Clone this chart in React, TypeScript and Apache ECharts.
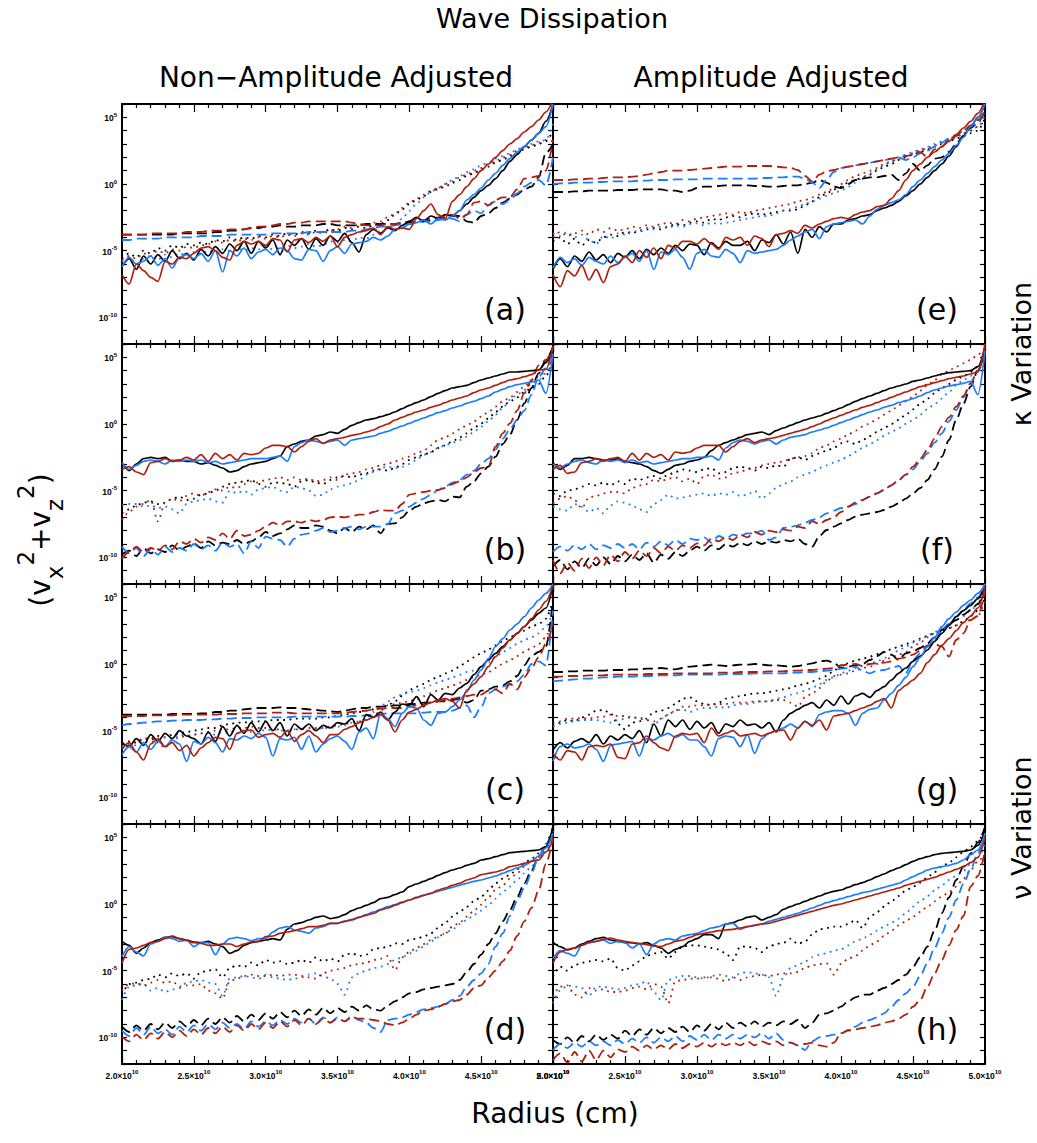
import React, { useEffect, useRef } from "react";
import * as echarts from "echarts";

// Radius grid, in units of 1e10 cm
const X = [2.00,2.05,2.10,2.15,2.20,2.25,2.30,2.35,2.40,2.45,2.50,2.55,2.60,2.65,2.70,2.75,2.80,2.85,2.90,2.95,3.00,3.05,3.10,3.15,3.20,3.25,3.30,3.35,3.40,3.45,3.50,3.55,3.60,3.65,3.70,3.75,3.80,3.85,3.90,3.95,4.00,4.05,4.10,4.15,4.20,4.25,4.30,4.35,4.40,4.45,4.50,4.55,4.60,4.65,4.70,4.75,4.80,4.85,4.90,4.95,5.00];

// All series values are log10(vx^2+vz^2). K=black, B=blue, R=red; S=solid, D=dashed, T=dotted
// ---- panel (a)
const aKS = [-6.2,-5.6,-6.4,-5.4,-6.0,-5.3,-5.8,-5.0,-5.6,-5.2,-5.7,-4.9,-5.4,-4.7,-5.2,-4.5,-5.0,-4.3,-5.2,-4.3,-4.8,-4.2,-5.3,-4.2,-4.6,-4.1,-4.9,-4.1,-4.6,-3.9,-4.3,-3.7,-4.4,-5.1,-3.8,-3.4,-3.7,-3.3,-3.5,-3.1,-2.8,-2.5,-2.8,-2.4,-2.6,-2.3,-2.4,-2.0,-1.5,-1.0,-0.5,-0.1,0.4,1.0,1.7,2.2,2.8,3.3,3.8,4.7,6.0];
const aKD = [-3.8,-3.8,-3.8,-3.8,-3.8,-3.8,-3.8,-3.8,-3.7,-3.7,-3.7,-3.7,-3.7,-3.6,-3.6,-3.5,-3.5,-3.4,-3.3,-3.3,-3.2,-3.2,-3.1,-3.2,-3.2,-3.1,-3.1,-3.1,-3.0,-3.0,-3.1,-3.1,-3.1,-3.1,-3.0,-3.0,-3.0,-3.0,-3.0,-2.9,-2.9,-2.8,-2.8,-2.7,-2.6,-2.5,-2.4,-2.4,-2.8,-2.9,-2.4,-2.2,-1.8,-1.4,-1.1,-0.8,-0.4,-0.2,0.5,2.3,3.0];
const aKT = [-5.6,-5.2,-5.5,-5.0,-5.2,-4.8,-5.0,-4.6,-4.8,-4.5,-4.6,-4.4,-4.5,-4.2,-4.3,-4.0,-4.2,-4.0,-4.1,-3.9,-4.0,-3.8,-3.9,-3.7,-3.8,-3.6,-3.7,-3.5,-3.6,-3.4,-3.5,-3.3,-3.4,-3.2,-3.3,-3.1,-3.0,-2.7,-2.3,-1.9,-1.5,-1.2,-0.9,-0.6,-0.4,-0.2,0.1,0.3,0.6,0.8,1.1,1.3,1.6,1.8,2.1,2.3,2.6,2.8,3.0,3.2,4.0];
const aBS = [-6.2,-5.5,-6.0,-5.8,-5.4,-6.1,-5.6,-6.3,-5.5,-5.3,-5.6,-5.2,-5.8,-5.0,-6.6,-5.0,-5.4,-4.8,-5.6,-5.1,-4.9,-5.3,-4.8,-5.0,-5.6,-5.7,-4.9,-5.0,-5.8,-5.0,-4.7,-5.2,-4.5,-4.4,-4.3,-4.0,-4.2,-3.9,-3.4,-3.3,-3.0,-2.9,-2.7,-3.0,-2.6,-2.7,-2.4,-2.0,-1.2,-0.8,-0.3,0.3,0.8,1.4,1.9,2.4,2.8,3.3,3.8,4.3,6.0];
const aBD = [-4.2,-4.2,-4.1,-4.1,-4.1,-4.1,-4.0,-4.0,-4.0,-4.0,-4.0,-3.9,-3.9,-3.9,-3.9,-3.8,-3.8,-3.8,-3.8,-3.8,-3.8,-3.7,-3.7,-3.7,-3.7,-3.7,-3.6,-3.6,-3.6,-3.6,-3.6,-3.6,-3.5,-3.5,-3.4,-3.3,-3.2,-3.2,-3.1,-3.0,-3.0,-2.9,-2.8,-2.8,-2.7,-2.6,-2.6,-2.8,-2.3,-2.0,-2.2,-1.6,-1.3,-1.5,-1.2,-0.7,-0.2,0.1,0.3,-0.1,2.0];
const aBT = [-5.8,-5.5,-6.0,-5.6,-5.4,-5.7,-5.3,-5.5,-5.2,-5.4,-5.1,-5.3,-5.0,-5.2,-4.9,-5.0,-4.8,-5.0,-4.8,-4.9,-4.7,-4.9,-4.8,-4.6,-4.8,-4.7,-4.5,-4.7,-4.6,-4.3,-4.4,-4.2,-4.3,-4.0,-4.1,-3.8,-3.6,-3.3,-3.0,-2.6,-2.0,-1.5,-1.0,-0.6,-0.3,0.0,0.3,0.6,0.9,1.1,1.4,1.6,1.9,2.1,2.3,2.6,2.8,3.0,3.2,3.3,4.5];
const aRS = [-6.8,-7.5,-6.0,-6.5,-7.0,-7.3,-5.8,-6.0,-5.5,-5.6,-5.2,-4.8,-4.7,-5.0,-5.5,-5.7,-4.6,-4.3,-4.5,-4.3,-4.6,-4.1,-4.2,-5.1,-4.2,-4.1,-4.4,-4.0,-4.3,-3.9,-4.7,-4.0,-3.8,-3.6,-3.5,-3.3,-3.8,-3.2,-3.4,-3.3,-3.4,-2.6,-2.0,-1.5,-2.3,-2.6,-1.3,-0.8,-0.2,0.4,1.0,1.5,2.0,2.5,3.0,3.4,3.9,4.3,4.8,5.4,6.3];
const aRD = [-3.8,-3.8,-3.8,-3.8,-3.7,-3.7,-3.7,-3.7,-3.7,-3.6,-3.6,-3.6,-3.5,-3.5,-3.5,-3.4,-3.4,-3.4,-3.3,-3.2,-3.2,-3.1,-3.0,-3.0,-2.9,-2.9,-2.8,-2.8,-2.8,-2.8,-2.8,-2.8,-2.9,-3.0,-3.1,-3.1,-3.1,-3.0,-3.0,-2.9,-2.8,-2.8,-2.7,-2.6,-2.5,-2.4,-2.3,-2.6,-2.3,-1.4,-1.3,-1.6,-1.2,-1.0,-1.0,-0.4,0.4,0.5,0.6,1.0,3.3];
const aRT = [-5.7,-5.4,-5.6,-5.2,-5.4,-5.0,-5.2,-4.9,-5.0,-4.7,-4.8,-4.6,-4.5,-4.3,-4.4,-4.2,-4.3,-4.1,-4.2,-4.0,-4.1,-3.9,-4.0,-3.8,-3.9,-3.7,-3.8,-3.6,-3.7,-3.5,-3.4,-3.2,-3.3,-3.0,-3.1,-2.9,-2.8,-2.5,-2.2,-1.8,-1.4,-1.1,-0.8,-0.5,-0.3,0.0,0.2,0.5,0.7,1.0,1.2,1.5,1.7,2.0,2.2,2.5,2.7,2.9,3.1,3.3,3.2];

// ---- panel (b)
const bKS = [-2.9,-3.5,-3.0,-2.6,-2.5,-2.6,-2.5,-2.8,-2.7,-2.8,-2.8,-3.0,-2.9,-3.1,-3.3,-3.6,-3.5,-3.2,-3.0,-2.9,-2.8,-2.6,-2.4,-1.7,-1.5,-1.3,-1.2,-0.9,-0.8,-0.6,-0.7,-0.4,-0.1,0.1,0.3,0.4,0.55,0.7,0.9,1.15,1.4,1.6,1.8,2.05,2.3,2.5,2.7,2.8,2.9,3.1,3.3,3.45,3.6,3.75,3.9,3.9,3.95,4.0,4.05,4.6,5.5];
const bKD = [-9.8,-9.5,-9.9,-9.3,-9.7,-9.4,-9.6,-9.1,-9.5,-9.2,-8.95,-9.3,-8.8,-9.1,-8.9,-9.0,-8.7,-9.0,-8.8,-8.5,-8.1,-8.4,-8.2,-7.9,-7.6,-7.8,-7.8,-7.6,-7.7,-8.0,-8.2,-7.8,-8.1,-7.7,-7.9,-7.6,-8.2,-7.5,-7.45,-7.0,-6.5,-6.2,-5.95,-5.8,-5.7,-5.8,-5.45,-5.5,-4.7,-4.3,-3.7,-3.2,-2.45,-1.5,-0.8,0.3,1.55,2.7,3.8,4.8,5.8];
const bKT = [-6.7,-6.4,-6.1,-5.9,-5.8,-6.0,-5.9,-5.6,-5.45,-5.7,-5.6,-5.3,-5.2,-5.0,-4.7,-4.5,-4.4,-4.3,-4.2,-4.5,-4.7,-4.4,-4.4,-4.5,-4.7,-4.3,-4.2,-4.4,-4.5,-4.2,-4.0,-3.9,-4.0,-3.8,-3.7,-3.5,-3.4,-3.5,-3.3,-3.0,-2.7,-2.5,-2.3,-2.1,-1.8,-1.6,-1.3,-1.0,-0.7,-0.3,0.05,0.4,0.9,1.3,1.7,2.0,2.4,2.7,3.0,3.6,4.8];
const bBS = [-2.9,-3.4,-3.1,-2.8,-2.7,-2.8,-3.0,-2.7,-2.8,-2.7,-2.8,-2.7,-2.9,-2.8,-3.0,-2.9,-2.8,-2.7,-2.6,-2.6,-2.6,-2.5,-2.4,-2.8,-1.7,-1.4,-1.2,-1.3,-1.45,-1.3,-1.2,-1.6,-1.2,-1.1,-1.0,-0.9,-0.7,-0.55,-0.35,-0.15,0.05,0.25,0.45,0.65,0.85,1.0,1.2,1.35,1.55,1.7,1.9,2.1,2.4,2.6,2.8,2.95,3.05,3.15,3.3,2.3,5.3];
const bBD = [-9.2,-9.7,-9.3,-9.9,-9.4,-9.8,-9.2,-9.6,-9.3,-9.5,-9.0,-9.4,-9.1,-9.5,-8.9,-9.2,-9.0,-9.7,-8.8,-9.3,-8.45,-8.6,-8.7,-9.2,-8.6,-8.3,-8.2,-8.0,-7.8,-8.1,-8.0,-7.8,-7.7,-7.9,-7.7,-7.7,-7.7,-7.5,-6.7,-6.5,-6.2,-5.9,-5.6,-5.3,-4.95,-4.7,-4.4,-4.2,-3.8,-3.5,-3.0,-2.6,-1.9,-1.1,-0.4,0.3,1.0,2.2,3.5,4.2,5.0];
const bBT = [-6.1,-6.0,-6.0,-6.2,-6.1,-6.3,-6.2,-6.4,-6.7,-6.0,-5.8,-5.7,-5.6,-5.8,-5.9,-5.0,-5.2,-5.0,-5.3,-4.9,-4.8,-4.7,-5.0,-5.1,-4.7,-4.8,-5.0,-5.4,-5.3,-4.9,-4.7,-4.6,-4.45,-4.2,-3.8,-3.6,-3.3,-3.2,-3.3,-3.2,-3.0,-2.7,-2.3,-2.1,-1.8,-1.6,-1.4,-1.2,-0.95,-0.6,-0.2,0.2,0.7,1.2,1.8,2.2,2.55,3.0,3.3,3.8,5.2];
const bRS = [-3.4,-3.2,-3.6,-3.8,-2.9,-2.8,-2.6,-2.8,-2.7,-2.5,-2.7,-2.3,-2.8,-2.2,-2.6,-2.3,-2.7,-2.2,-2.3,-2.2,-1.8,-1.6,-1.6,-1.7,-2.1,-1.7,-1.3,-1.1,-1.45,-1.2,-1.1,-1.0,-0.85,-0.75,-0.6,-0.45,-0.2,0.0,0.3,0.5,0.7,0.9,1.05,1.25,1.4,1.6,1.8,1.95,2.1,2.35,2.55,2.7,2.9,3.1,3.3,3.4,3.55,3.7,4.05,4.1,5.8];
const bRD = [-10.1,-9.6,-9.2,-9.6,-9.3,-9.5,-9.1,-9.4,-8.8,-9.0,-8.6,-8.9,-8.5,-8.7,-8.2,-8.6,-8.0,-8.4,-8.3,-8.0,-7.7,-7.4,-7.6,-7.3,-7.3,-7.4,-7.2,-7.3,-7.2,-7.0,-6.95,-7.0,-6.9,-6.8,-6.8,-6.6,-6.45,-6.5,-6.5,-6.0,-5.3,-5.2,-5.1,-5.0,-4.95,-4.8,-4.5,-4.3,-4.0,-3.6,-3.3,-3.2,-1.7,-0.7,0.05,1.0,2.3,3.3,4.4,4.8,5.8];
const bRT = [-7.2,-6.6,-6.2,-6.0,-5.7,-7.3,-5.9,-5.6,-5.8,-5.4,-5.2,-5.4,-5.1,-4.9,-5.0,-4.7,-4.8,-4.5,-4.3,-4.4,-4.2,-4.1,-4.0,-4.2,-4.0,-4.2,-4.1,-4.3,-4.2,-4.0,-4.2,-3.8,-3.7,-3.6,-3.4,-3.3,-3.1,-3.0,-2.8,-2.6,-2.45,-2.2,-2.0,-1.6,-1.2,-1.0,-0.7,-0.4,-0.1,0.2,0.55,0.9,1.3,1.7,2.0,2.4,2.8,3.2,3.55,4.0,5.3];

// ---- panel (c)
const cKS = [-5.9,-6.2,-5.6,-6.1,-5.3,-5.8,-5.2,-5.6,-5.0,-5.4,-5.6,-6.0,-5.1,-5.8,-4.7,-5.4,-4.6,-5.2,-4.4,-5.1,-4.3,-5.0,-4.4,-5.4,-4.5,-4.9,-4.5,-5.0,-4.6,-4.8,-4.4,-4.5,-4.1,-5.0,-3.8,-4.0,-3.6,-4.2,-3.6,-3.0,-3.1,-2.45,-3.2,-2.3,-2.7,-2.2,-2.3,-1.8,-1.45,-0.8,-0.2,0.3,0.8,1.3,1.8,2.3,2.8,3.3,3.8,4.2,5.9];
const cKD = [-3.8,-3.8,-3.8,-3.8,-3.8,-3.8,-3.8,-3.75,-3.75,-3.75,-3.75,-3.7,-3.7,-3.6,-3.6,-3.5,-3.5,-3.4,-3.35,-3.3,-3.3,-3.3,-3.25,-3.3,-3.3,-3.35,-3.4,-3.45,-3.5,-3.55,-3.6,-3.5,-3.4,-3.3,-3.3,-3.2,-3.2,-3.2,-3.1,-3.1,-3.0,-3.0,-2.9,-2.9,-2.8,-2.8,-2.7,-2.6,-2.9,-2.7,-2.0,-1.9,-1.7,-1.6,-1.3,-0.9,-0.1,0.6,0.9,1.3,4.8];
const cKT = [-6.0,-5.8,-5.9,-5.6,-5.7,-5.4,-5.5,-5.3,-5.2,-5.1,-5.0,-4.9,-4.8,-4.8,-4.6,-4.5,-4.4,-4.4,-4.3,-4.3,-4.3,-4.2,-4.2,-4.2,-4.1,-4.1,-4.1,-4.1,-4.0,-4.0,-3.9,-3.8,-3.7,-3.6,-3.5,-3.4,-3.3,-3.1,-2.8,-2.4,-1.95,-1.7,-1.5,-1.2,-0.95,-0.7,-0.5,-0.2,0.2,0.5,0.8,1.1,1.4,1.7,2.0,2.3,2.5,2.8,3.0,3.4,4.8];
const cBS = [-6.8,-6.2,-6.6,-5.9,-6.4,-5.8,-6.2,-5.7,-6.0,-7.3,-5.8,-6.0,-5.5,-5.9,-6.6,-5.6,-5.7,-5.4,-5.6,-5.2,-5.5,-6.9,-5.6,-5.7,-5.5,-6.4,-5.4,-6.6,-6.0,-5.6,-5.4,-5.8,-6.4,-5.1,-4.8,-5.6,-3.7,-4.1,-4.7,-3.7,-3.2,-3.3,-4.2,-4.6,-3.7,-3.6,-3.2,-2.7,-2.1,-1.2,-0.45,0.4,1.3,1.9,2.55,3.0,3.55,4.2,4.8,5.3,6.0];
const cBD = [-4.6,-4.5,-4.45,-4.4,-4.35,-4.3,-4.3,-4.25,-4.25,-4.2,-4.2,-4.2,-4.15,-4.15,-4.1,-4.1,-4.05,-4.05,-4.05,-4.0,-4.0,-4.0,-4.0,-4.0,-3.95,-3.95,-3.95,-3.95,-3.95,-3.95,-3.95,-3.95,-3.9,-3.9,-3.85,-3.8,-3.75,-3.7,-3.7,-3.7,-3.7,-3.7,-3.65,-3.6,-3.6,-3.6,-3.5,-3.3,-3.1,-4.0,-3.2,-2.2,-1.9,-1.7,-1.5,-1.3,-0.8,0.0,0.2,-0.1,4.0];
const cBT = [-6.2,-6.0,-6.1,-5.8,-5.9,-5.6,-5.5,-5.6,-5.3,-5.4,-5.3,-5.2,-5.2,-5.3,-5.1,-5.0,-5.2,-5.0,-5.1,-4.9,-5.0,-4.9,-5.0,-5.0,-4.9,-4.9,-5.0,-4.9,-4.8,-4.8,-4.7,-4.6,-4.4,-4.3,-4.1,-3.6,-3.2,-2.8,-2.5,-2.3,-2.1,-2.0,-1.8,-1.6,-1.4,-1.2,-1.0,-0.8,-0.6,-0.5,-0.3,0.1,0.5,0.9,1.2,1.5,1.8,2.0,2.3,2.8,4.0];
const cRS = [-6.4,-5.9,-6.6,-7.2,-6.0,-5.6,-6.2,-5.9,-6.5,-6.1,-6.9,-6.3,-5.9,-5.5,-5.6,-6.4,-5.2,-5.0,-4.95,-5.5,-5.3,-5.2,-5.5,-5.0,-5.8,-5.3,-5.0,-5.4,-5.9,-5.3,-5.3,-4.9,-4.7,-4.4,-4.2,-4.0,-3.8,-4.2,-5.1,-4.2,-3.6,-3.4,-3.1,-2.9,-2.7,-2.6,-2.8,-3.3,-1.95,-1.5,-0.95,-0.2,0.55,1.2,1.8,2.3,2.8,3.4,4.05,4.7,5.9];
const cRD = [-3.9,-3.9,-3.9,-3.9,-3.85,-3.85,-3.85,-3.85,-3.8,-3.8,-3.8,-3.8,-3.8,-3.8,-3.75,-3.75,-3.75,-3.7,-3.7,-3.7,-3.7,-3.65,-3.65,-3.65,-3.7,-3.7,-3.7,-3.7,-3.7,-3.7,-3.7,-3.65,-3.6,-3.55,-3.5,-3.4,-3.35,-3.3,-3.3,-3.3,-3.2,-3.1,-3.0,-2.9,-2.8,-2.7,-2.6,-2.5,-2.4,-2.3,-2.3,-2.0,-1.9,-2.2,-1.5,-1.9,-1.0,-0.3,0.5,1.5,3.0];
const cRT = [-5.9,-6.1,-5.8,-5.6,-5.5,-5.9,-6.3,-5.7,-5.5,-5.4,-5.3,-5.2,-5.1,-5.0,-4.9,-4.9,-4.8,-4.8,-4.7,-4.8,-4.8,-4.9,-4.9,-5.0,-4.9,-4.9,-4.8,-4.8,-4.8,-4.7,-4.6,-4.5,-4.4,-4.3,-4.2,-3.9,-3.5,-3.1,-3.0,-2.9,-2.8,-2.6,-2.4,-2.2,-2.0,-1.8,-1.6,-1.4,-1.2,-1.0,-0.8,-0.6,-0.3,0.0,0.3,0.6,0.9,1.2,1.5,2.0,3.5];

// ---- panel (d)
const dKS = [-2.8,-3.1,-3.7,-3.3,-2.9,-2.7,-2.5,-2.45,-2.6,-2.7,-2.85,-2.9,-2.8,-3.0,-3.2,-3.7,-3.5,-3.1,-2.9,-2.8,-2.7,-2.6,-2.7,-1.9,-1.5,-1.4,-1.2,-1.0,-0.9,-1.1,-1.0,-0.8,-0.5,-0.3,-0.1,0.1,0.4,0.5,0.7,0.9,1.3,1.5,1.7,1.9,2.15,2.35,2.55,2.7,2.9,3.05,3.3,3.4,3.55,3.7,3.85,3.9,3.95,4.0,4.05,4.3,5.8];
const dKD = [-9.2,-9.6,-9.1,-9.5,-9.0,-9.4,-8.9,-9.3,-8.8,-9.2,-8.7,-9.1,-8.6,-9.0,-8.5,-8.9,-8.4,-8.8,-8.3,-8.7,-8.2,-8.6,-8.1,-8.5,-8.0,-8.4,-7.9,-8.3,-7.8,-8.2,-7.8,-8.1,-7.7,-8.0,-7.6,-7.9,-8.0,-7.6,-7.3,-7.0,-6.7,-6.6,-6.4,-6.3,-6.2,-6.1,-6.0,-5.7,-5.1,-4.5,-3.8,-3.0,-2.2,-1.3,-0.45,0.5,1.55,2.5,3.55,4.3,5.8];
const dKT = [-6.8,-6.0,-5.9,-5.7,-5.6,-5.3,-5.5,-5.2,-5.4,-5.2,-5.6,-5.1,-5.0,-4.9,-5.5,-4.8,-4.6,-4.7,-4.4,-4.6,-4.2,-4.4,-4.3,-4.5,-4.4,-4.2,-4.4,-4.0,-4.3,-4.1,-4.3,-3.8,-3.7,-3.9,-3.8,-3.4,-3.3,-3.2,-2.95,-3.0,-2.7,-2.6,-2.45,-2.2,-1.8,-1.4,-0.95,-0.6,-0.2,0.2,0.55,1.0,1.55,1.9,2.2,2.6,3.05,3.4,3.8,4.2,5.3];
const dBS = [-3.95,-3.2,-3.6,-3.9,-3.0,-2.8,-2.5,-2.6,-2.8,-2.7,-3.2,-2.9,-2.9,-3.8,-3.0,-2.6,-2.5,-2.6,-2.75,-2.6,-2.6,-2.1,-1.8,-1.7,-1.95,-2.05,-2.2,-1.8,-1.7,-1.45,-1.45,-1.3,-1.15,-1.0,-0.8,-0.6,-0.4,-0.2,-0.05,0.15,0.3,0.45,0.65,0.8,0.95,1.1,1.25,1.4,1.55,1.7,1.8,1.95,2.1,2.3,2.5,2.7,2.9,3.2,3.6,4.2,5.3];
const dBD = [-9.5,-9.9,-9.3,-9.8,-9.2,-9.7,-9.4,-9.8,-9.2,-9.6,-9.1,-9.5,-9.0,-9.4,-8.9,-9.3,-9.0,-9.4,-8.8,-9.2,-8.8,-9.1,-8.7,-9.0,-8.6,-8.9,-8.6,-9.0,-8.5,-8.9,-8.5,-8.8,-8.4,-8.7,-8.9,-9.3,-9.6,-8.7,-8.6,-8.5,-8.3,-8.1,-7.9,-7.8,-7.7,-7.5,-7.2,-6.9,-6.2,-5.7,-5.2,-4.5,-3.2,-2.2,-0.9,0.2,1.2,2.3,3.55,4.5,5.5];
const dBT = [-7.2,-6.2,-6.1,-6.0,-6.5,-6.3,-6.6,-6.4,-6.3,-5.9,-5.8,-5.7,-5.9,-6.0,-6.9,-5.6,-5.5,-5.4,-5.5,-5.6,-5.3,-5.5,-5.6,-5.7,-5.6,-5.5,-5.3,-5.2,-5.4,-5.6,-6.0,-6.8,-5.5,-5.2,-5.0,-4.8,-4.7,-4.5,-4.2,-4.0,-3.7,-3.5,-3.2,-2.8,-2.5,-2.2,-1.9,-1.5,-1.2,-0.8,-0.5,-0.1,0.4,0.9,1.3,1.8,2.3,2.8,3.4,3.9,5.0];
const dRS = [-4.45,-3.4,-3.3,-3.1,-2.9,-2.8,-2.6,-2.4,-2.6,-2.75,-2.9,-2.95,-3.1,-3.1,-3.0,-3.0,-3.2,-3.0,-2.85,-2.8,-2.45,-2.4,-2.2,-2.1,-2.0,-1.85,-1.7,-1.7,-1.6,-1.45,-1.45,-1.3,-1.2,-1.0,-0.85,-0.7,-0.45,-0.3,-0.1,0.1,0.3,0.5,0.65,0.8,1.05,1.2,1.4,1.55,1.8,1.95,2.2,2.3,2.4,2.55,2.8,2.9,3.05,3.2,3.3,3.9,4.8];
const dRD = [-9.95,-10.3,-9.8,-10.2,-9.7,-10.1,-9.6,-10.0,-9.5,-9.9,-9.4,-9.8,-9.3,-9.7,-9.2,-9.6,-9.1,-9.5,-9.0,-9.4,-8.9,-9.3,-8.8,-9.2,-8.7,-9.1,-8.6,-9.0,-8.6,-8.9,-8.6,-8.8,-8.5,-8.6,-8.6,-8.7,-8.8,-9.0,-9.1,-8.9,-8.6,-8.3,-8.0,-7.9,-7.7,-7.5,-7.3,-7.2,-6.8,-6.3,-6.1,-5.5,-5.0,-4.3,-3.5,-2.4,-1.3,-0.3,1.0,3.0,5.0];
const dRT = [-6.5,-6.0,-5.95,-6.1,-5.9,-5.7,-5.9,-5.8,-6.2,-6.1,-6.1,-6.0,-6.5,-6.7,-7.1,-5.8,-5.6,-5.4,-5.3,-5.4,-5.4,-5.3,-5.4,-5.3,-5.3,-5.4,-5.5,-5.6,-5.2,-5.0,-4.9,-4.8,-4.6,-4.5,-4.4,-4.2,-4.1,-3.9,-4.95,-4.0,-3.6,-3.3,-3.0,-2.7,-2.45,-2.2,-1.7,-1.4,-0.95,-0.5,-0.05,0.5,1.05,1.4,1.9,2.3,2.8,3.2,3.55,4.0,5.0];

// ---- panel (e)
const eKS = [-6.4,-5.6,-6.2,-5.4,-5.8,-5.1,-5.7,-5.3,-5.9,-5.2,-5.5,-5.0,-5.6,-4.9,-5.3,-4.8,-5.2,-4.6,-5.0,-4.5,-4.6,-5.3,-4.4,-4.8,-4.3,-4.6,-4.6,-4.3,-5.0,-4.2,-4.4,-3.8,-4.5,-3.6,-5.2,-3.4,-4.0,-3.2,-3.6,-3.0,-3.0,-2.7,-2.6,-2.4,-2.3,-2.0,-1.8,-1.6,-1.3,-0.9,-0.5,0.0,0.5,1.0,1.5,2.1,2.8,3.6,4.3,5.0,6.0];
const eKD = [-0.6,-0.6,-0.6,-0.55,-0.55,-0.5,-0.5,-0.5,-0.5,-0.45,-0.45,-0.45,-0.4,-0.4,-0.4,-0.4,-0.5,-0.5,-0.6,-0.5,-0.3,-0.2,-0.2,-0.15,-0.1,-0.1,-0.1,-0.1,-0.15,-0.15,-0.2,-0.2,-0.15,-0.1,-0.1,0.0,0.1,0.3,0.1,-0.2,-0.3,0.0,0.3,0.4,0.5,0.5,0.6,0.7,0.3,0.8,1.5,1.0,1.4,1.9,2.0,2.4,3.0,3.6,4.2,4.6,5.5];
const eKT = [-4.3,-4.0,-4.5,-4.1,-4.6,-4.2,-4.4,-4.0,-3.8,-3.9,-3.6,-3.7,-3.5,-3.4,-3.3,-3.4,-3.2,-3.0,-3.1,-2.9,-2.8,-2.9,-2.6,-2.7,-2.5,-2.4,-2.5,-2.3,-2.2,-2.3,-2.2,-2.1,-2.0,-2.0,-1.9,-1.6,-1.3,-1.0,-0.7,-0.4,-0.2,0.1,0.3,0.5,0.7,1.0,1.3,1.5,1.8,2.0,2.2,2.4,2.6,2.8,3.0,3.2,3.4,3.6,3.8,4.0,5.0];
const eBS = [-6.3,-5.5,-5.9,-5.6,-6.1,-5.5,-5.8,-6.0,-5.4,-5.9,-5.5,-5.2,-5.8,-5.0,-6.4,-5.1,-5.3,-4.9,-5.5,-6.4,-5.2,-4.9,-5.4,-5.5,-4.9,-5.2,-5.9,-5.0,-5.2,-5.1,-5.0,-4.9,-4.6,-4.2,-3.9,-3.6,-3.4,-4.1,-3.2,-3.0,-2.9,-2.8,-2.7,-3.0,-2.4,-1.9,-1.6,-1.4,-1.2,-0.8,-0.2,0.3,0.8,1.3,1.8,2.3,2.9,3.5,4.3,5.0,6.0];
const eBD = [0.0,0.05,0.05,0.1,0.1,0.1,0.15,0.15,0.2,0.2,0.2,0.2,0.25,0.25,0.3,0.3,0.3,0.35,0.35,0.35,0.35,0.4,0.4,0.4,0.4,0.4,0.4,0.4,0.4,0.45,0.45,0.5,0.5,0.55,0.55,0.4,0.1,-0.3,0.3,0.9,1.2,1.3,1.4,1.5,1.6,1.7,1.8,1.9,2.0,1.8,2.0,2.3,2.5,2.8,3.1,3.4,3.7,4.0,4.3,4.7,5.5];
const eBT = [-3.7,-3.9,-3.6,-4.0,-3.8,-4.2,-4.5,-3.9,-4.1,-3.7,-3.8,-3.5,-3.6,-3.3,-3.4,-3.2,-3.3,-3.1,-3.2,-3.0,-2.95,-3.1,-2.9,-3.0,-2.9,-2.8,-2.7,-2.6,-2.5,-2.4,-2.4,-2.2,-2.0,-1.9,-1.7,-1.5,-1.3,-1.1,-0.9,-0.7,-0.5,-0.2,0.1,0.5,0.8,1.1,1.4,1.7,2.0,2.2,2.4,2.6,2.8,3.0,3.2,3.4,3.6,3.8,4.0,4.3,5.2];
const eRS = [-6.8,-7.7,-6.5,-6.9,-6.1,-7.2,-6.4,-7.4,-6.2,-6.0,-5.4,-5.9,-5.0,-5.5,-4.8,-5.6,-4.6,-4.8,-4.3,-4.3,-4.5,-4.1,-4.5,-4.9,-4.0,-4.2,-4.0,-4.6,-3.9,-4.1,-4.7,-3.8,-3.7,-3.5,-3.7,-3.1,-3.3,-3.0,-2.8,-2.6,-2.5,-2.6,-2.3,-2.1,-2.0,-1.7,-1.6,-1.1,-0.5,0.3,1.0,1.5,2.0,2.4,2.8,3.2,3.7,4.2,4.7,5.3,6.3];
const eRD = [0.3,0.3,0.3,0.35,0.35,0.4,0.4,0.45,0.5,0.5,0.5,0.55,0.6,0.7,0.8,0.9,1.0,1.0,1.0,1.05,1.1,1.15,1.2,1.25,1.3,1.3,1.3,1.35,1.35,1.35,1.35,1.3,1.25,1.2,1.05,0.6,0.2,0.7,0.95,1.05,1.2,1.3,1.4,1.5,1.6,1.7,1.8,1.9,2.0,2.1,2.2,2.4,2.0,2.6,2.8,3.3,3.6,4.0,4.4,4.8,5.5];
const eRT = [-4.0,-3.6,-3.9,-3.7,-3.5,-3.8,-3.4,-3.6,-3.3,-3.5,-3.4,-3.2,-3.3,-3.1,-3.2,-3.0,-2.9,-3.0,-2.7,-2.8,-2.6,-2.5,-2.4,-2.3,-2.2,-2.3,-2.1,-2.2,-2.0,-1.9,-1.8,-1.7,-1.6,-1.5,-1.3,-1.2,-1.0,-0.8,-0.6,-0.3,0.0,0.3,0.6,0.8,1.0,1.2,1.5,1.7,1.9,2.1,2.3,2.5,2.7,2.9,3.1,3.3,3.5,3.8,4.0,4.3,4.8];

// ---- panel (f)
const fKS = [-2.9,-3.4,-3.1,-2.6,-2.6,-2.5,-2.6,-2.7,-2.7,-2.6,-2.8,-2.9,-3.0,-3.2,-3.5,-3.7,-3.4,-3.1,-3.0,-2.8,-2.7,-2.5,-2.0,-1.6,-1.4,-1.2,-1.0,-0.8,-0.7,-0.6,-0.8,-0.5,-0.3,-0.1,0.1,0.3,0.45,0.6,0.8,1.0,1.2,1.45,1.7,1.9,2.1,2.3,2.5,2.7,2.85,3.0,3.2,3.3,3.45,3.6,3.75,3.85,3.9,3.95,4.0,4.3,5.8];
const fKD = [-10.7,-10.2,-10.9,-10.3,-10.8,-10.1,-10.6,-10.0,-10.5,-9.9,-10.3,-9.8,-10.2,-9.7,-10.4,-9.8,-10.1,-9.6,-9.9,-9.5,-9.2,-9.5,-9.1,-9.4,-9.0,-9.2,-8.9,-9.1,-8.8,-9.0,-8.8,-8.9,-8.7,-8.8,-8.6,-9.0,-9.2,-8.4,-7.95,-7.7,-7.45,-7.2,-6.95,-6.8,-6.7,-6.6,-6.45,-6.2,-5.95,-5.6,-5.2,-4.8,-4.2,-3.4,-2.45,-1.2,0.3,1.5,2.8,4.0,5.5];
const fKT = [-5.2,-5.4,-5.0,-4.9,-4.7,-4.5,-4.6,-4.4,-4.6,-4.3,-4.5,-4.1,-4.2,-4.0,-3.9,-4.1,-3.8,-3.6,-3.4,-3.5,-3.6,-3.4,-3.3,-3.7,-3.6,-3.3,-3.2,-3.3,-3.5,-3.2,-3.3,-3.1,-3.2,-2.6,-2.5,-2.7,-2.4,-2.2,-2.0,-1.8,-1.45,-1.3,-1.5,-1.2,-0.9,-0.6,-0.3,0.0,0.3,0.7,1.1,1.5,1.9,2.3,2.7,3.0,3.3,3.6,3.9,4.3,5.0];
const fBS = [-3.0,-3.3,-3.0,-2.8,-2.7,-2.9,-3.0,-2.7,-2.8,-2.7,-2.9,-2.7,-2.9,-2.8,-3.0,-2.9,-2.8,-2.7,-2.6,-2.6,-2.5,-2.5,-2.4,-2.7,-1.8,-1.4,-1.2,-1.3,-1.5,-1.3,-1.2,-1.5,-1.2,-1.0,-0.9,-0.8,-0.6,-0.45,-0.3,-0.1,0.1,0.3,0.5,0.7,0.9,1.05,1.25,1.4,1.6,1.75,1.9,2.1,2.35,2.55,2.7,2.85,2.95,3.05,3.2,2.2,5.5];
const fBD = [-9.6,-9.2,-9.5,-9.1,-9.4,-9.0,-9.4,-9.1,-9.3,-9.0,-9.3,-9.0,-9.4,-8.9,-9.2,-8.8,-9.1,-8.7,-9.0,-8.6,-8.7,-8.5,-8.9,-8.4,-8.6,-8.3,-8.4,-8.2,-8.2,-8.0,-8.7,-8.5,-7.8,-7.7,-7.6,-7.4,-7.2,-7.0,-6.7,-6.5,-6.3,-6.2,-6.0,-5.7,-5.45,-5.2,-4.95,-4.6,-4.2,-3.8,-3.4,-2.8,-2.2,-1.4,-0.7,0.2,1.05,2.0,3.05,4.0,5.5];
const fBT = [-6.2,-6.4,-6.5,-6.0,-6.2,-6.6,-6.3,-6.7,-6.1,-5.8,-5.9,-6.1,-6.4,-6.6,-6.0,-5.7,-5.3,-5.6,-5.5,-5.4,-5.3,-5.2,-5.4,-5.2,-5.3,-5.1,-5.4,-5.3,-5.0,-5.6,-5.2,-4.8,-4.5,-4.3,-4.0,-3.8,-3.6,-3.3,-3.1,-2.9,-2.7,-2.4,-2.1,-1.8,-1.5,-1.2,-0.9,-0.6,-0.3,0.0,0.3,0.7,1.1,1.5,1.9,2.4,2.9,3.3,3.6,4.0,5.0];
const fRS = [-3.4,-3.1,-3.7,-3.6,-2.9,-2.8,-2.6,-2.8,-2.6,-2.5,-2.8,-2.2,-2.7,-2.2,-2.5,-2.3,-2.7,-2.1,-2.2,-2.1,-1.8,-1.6,-1.6,-1.6,-2.1,-1.7,-1.3,-1.1,-1.4,-1.2,-1.1,-1.0,-0.85,-0.7,-0.55,-0.4,-0.2,0.0,0.25,0.45,0.65,0.85,1.05,1.25,1.4,1.6,1.8,2.0,2.2,2.4,2.6,2.8,2.95,3.1,3.25,3.4,3.5,3.6,3.75,3.9,6.0];
const fRD = [-10.2,-11.2,-10.4,-11.0,-10.1,-10.8,-10.0,-10.6,-9.8,-10.3,-9.6,-10.1,-9.5,-9.9,-9.3,-9.7,-9.2,-9.5,-9.1,-9.3,-8.95,-9.1,-8.6,-8.8,-8.5,-8.7,-8.3,-8.5,-8.1,-8.3,-8.0,-8.1,-7.9,-8.0,-7.7,-7.8,-7.3,-7.5,-7.2,-7.0,-6.6,-6.2,-5.9,-5.7,-5.45,-5.2,-4.9,-4.6,-4.2,-3.8,-3.2,-2.6,-1.95,-1.1,-0.2,0.5,1.3,2.1,3.05,4.0,5.5];
const fRT = [-5.95,-5.6,-5.4,-5.7,-6.3,-5.5,-5.4,-5.2,-5.1,-5.1,-5.2,-4.8,-4.6,-4.5,-4.2,-4.3,-4.1,-4.0,-4.3,-4.1,-4.5,-3.9,-3.8,-4.1,-4.0,-3.7,-3.6,-3.4,-3.3,-3.1,-3.0,-2.9,-2.8,-2.6,-2.5,-2.4,-2.2,-1.8,-1.6,-1.3,-1.1,-0.8,-0.5,-0.2,0.05,0.4,0.7,1.0,1.4,1.7,2.05,2.5,2.9,3.3,3.7,4.0,4.3,4.55,4.8,5.2,5.7];

// ---- panel (g)
const gKS = [-6.45,-5.9,-6.3,-5.8,-5.6,-5.9,-5.3,-6.0,-5.4,-5.7,-5.3,-5.6,-5.0,-5.9,-4.5,-5.4,-4.2,-4.7,-4.2,-4.9,-4.3,-4.8,-4.4,-5.2,-4.5,-4.7,-4.2,-4.6,-4.5,-4.8,-4.4,-5.1,-4.2,-3.7,-3.4,-3.1,-2.9,-3.3,-2.7,-3.1,-2.4,-3.0,-2.4,-2.2,-2.5,-2.0,-1.7,-1.2,-0.7,-0.3,0.2,0.6,1.05,1.7,2.3,2.9,3.55,4.0,4.4,4.9,5.8];
const gKD = [-0.6,-0.6,-0.55,-0.55,-0.5,-0.5,-0.5,-0.5,-0.45,-0.45,-0.45,-0.4,-0.4,-0.35,-0.35,-0.3,-0.35,-0.4,-0.3,-0.2,-0.15,-0.1,-0.05,-0.1,-0.15,-0.1,-0.05,-0.05,0.0,-0.05,-0.1,-0.1,-0.15,-0.2,-0.15,-0.05,0.05,0.2,0.25,0.1,-0.3,-0.2,-0.1,0.0,0.3,0.6,0.9,0.7,0.3,0.8,0.95,1.2,1.55,2.0,2.55,3.0,3.3,3.7,4.05,4.5,5.8];
const gKT = [-4.7,-4.4,-4.2,-4.3,-4.0,-3.8,-3.5,-3.45,-3.7,-4.5,-4.9,-4.4,-4.3,-4.1,-3.6,-3.5,-3.3,-3.0,-2.6,-2.5,-2.8,-3.0,-3.1,-2.9,-2.6,-2.5,-2.4,-2.3,-2.2,-2.2,-2.1,-2.0,-1.9,-1.8,-1.6,-1.5,-1.3,-1.1,-0.9,-0.5,-0.1,0.05,0.25,0.4,0.55,0.75,0.9,1.1,1.3,1.5,1.7,1.9,2.1,2.3,2.5,2.7,2.9,3.2,3.6,4.0,5.0];
const gBS = [-7.3,-6.2,-6.0,-6.3,-6.2,-6.0,-6.4,-7.3,-6.1,-6.0,-5.9,-5.8,-6.9,-5.6,-5.7,-5.4,-5.2,-5.5,-5.3,-5.7,-5.7,-6.2,-6.9,-5.6,-5.4,-5.5,-6.2,-5.3,-6.7,-5.6,-5.2,-5.0,-4.8,-4.5,-4.8,-4.3,-4.7,-3.8,-3.6,-3.5,-3.5,-3.7,-4.6,-3.7,-3.4,-3.3,-2.7,-2.2,-1.6,-1.0,-0.2,0.5,1.3,2.0,2.8,3.4,3.9,4.4,4.8,5.3,6.0];
const gBD = [-1.3,-1.25,-1.2,-1.15,-1.1,-1.1,-1.05,-1.0,-1.0,-0.95,-0.95,-0.95,-0.9,-0.9,-0.9,-0.85,-0.85,-0.85,-0.8,-0.8,-0.8,-0.8,-0.8,-0.8,-0.75,-0.75,-0.75,-0.75,-0.7,-0.7,-0.7,-0.7,-0.7,-0.65,-0.65,-0.6,-0.6,-0.55,-0.5,-0.45,-0.35,-0.3,-0.2,-0.5,-0.7,-0.5,-0.45,-0.3,-0.15,-0.7,0.3,0.8,1.3,1.8,2.55,3.0,3.55,4.0,4.55,5.0,6.0];
const gBT = [-4.7,-4.5,-4.4,-4.3,-4.2,-4.2,-4.2,-4.3,-4.4,-4.2,-4.1,-4.0,-4.0,-4.2,-4.6,-4.1,-3.8,-3.5,-3.4,-3.6,-3.4,-3.3,-3.3,-3.2,-3.3,-3.1,-3.0,-3.0,-2.9,-2.8,-2.8,-2.6,-2.5,-2.3,-2.2,-2.0,-1.8,-1.5,-1.2,-1.0,-0.7,-0.5,-0.3,-0.15,0.0,0.2,0.45,0.7,1.0,1.3,1.6,1.8,2.1,2.4,2.7,3.0,3.3,3.6,4.0,4.5,5.3];
const gRS = [-6.7,-7.2,-6.5,-6.6,-7.2,-6.2,-6.1,-6.2,-6.0,-7.0,-7.1,-6.0,-5.9,-5.4,-5.9,-6.3,-6.5,-5.4,-5.2,-5.3,-5.2,-5.9,-4.8,-5.4,-5.2,-5.0,-5.4,-5.3,-5.2,-5.4,-5.2,-5.0,-4.95,-5.7,-4.8,-4.3,-4.6,-4.2,-4.95,-3.9,-3.8,-3.7,-3.5,-3.3,-3.1,-2.8,-2.6,-3.3,-2.0,-1.6,-1.2,-0.7,0.1,0.7,1.4,1.9,2.5,3.1,3.6,4.2,5.8];
const gRD = [-0.95,-0.95,-0.9,-0.9,-0.9,-0.85,-0.85,-0.85,-0.8,-0.8,-0.8,-0.8,-0.8,-0.75,-0.75,-0.75,-0.75,-0.7,-0.7,-0.7,-0.7,-0.7,-0.7,-0.65,-0.65,-0.65,-0.6,-0.6,-0.6,-0.6,-0.55,-0.55,-0.55,-0.5,-0.5,-0.45,-0.45,-0.4,-0.35,-0.3,-0.1,-0.05,0.0,-0.15,0.0,0.05,0.1,0.2,0.4,0.5,0.7,1.0,1.4,1.5,1.3,0.55,1.8,2.3,3.3,3.6,5.5];
const gRT = [-4.45,-4.3,-4.1,-4.1,-4.05,-4.1,-4.0,-3.95,-3.8,-3.9,-3.9,-4.0,-4.1,-4.2,-4.3,-4.1,-3.8,-3.5,-3.2,-3.2,-3.1,-3.1,-3.0,-3.0,-3.0,-2.9,-2.9,-2.9,-2.8,-2.8,-2.8,-2.7,-2.7,-2.9,-3.2,-2.5,-2.2,-1.8,-1.3,-0.9,-0.8,-0.7,-0.5,-0.3,-0.2,0.0,0.25,0.5,0.7,0.9,1.3,1.6,2.0,2.3,2.5,2.7,2.9,3.1,3.3,3.6,4.8];

// ---- panel (h)
const hKS = [-2.85,-3.2,-3.45,-3.3,-3.0,-2.8,-2.6,-2.5,-2.7,-2.8,-2.9,-2.9,-3.0,-2.9,-3.1,-3.3,-3.7,-3.4,-3.2,-2.8,-2.6,-2.3,-2.3,-2.6,-1.5,-1.4,-1.2,-1.0,-0.9,-1.2,-1.0,-0.8,-0.4,-0.2,0.0,0.2,0.4,0.6,0.8,0.95,1.05,1.25,1.45,1.6,1.8,2.05,2.25,2.5,2.7,2.95,3.2,3.4,3.55,3.7,3.8,3.85,3.9,3.95,4.05,4.4,5.5];
const hKD = [-10.2,-10.5,-10.0,-10.4,-9.9,-10.3,-9.8,-10.2,-9.8,-10.1,-9.5,-9.9,-9.4,-9.8,-9.3,-9.7,-9.3,-9.6,-9.2,-9.6,-9.1,-9.5,-9.0,-9.4,-8.9,-9.3,-8.9,-9.2,-8.8,-9.2,-8.9,-9.1,-8.8,-9.0,-8.7,-9.3,-8.9,-8.3,-8.2,-8.0,-7.7,-7.3,-7.0,-6.8,-6.8,-6.5,-6.3,-6.0,-5.7,-5.3,-4.7,-4.0,-3.2,-2.0,-0.7,0.5,1.8,2.8,3.8,4.6,5.8];
const hKT = [-5.45,-4.7,-5.0,-4.6,-4.4,-4.3,-4.2,-4.3,-4.1,-4.8,-5.0,-4.6,-4.3,-3.9,-3.7,-3.6,-4.1,-3.6,-3.2,-3.1,-3.1,-3.2,-3.3,-3.4,-3.7,-4.2,-3.2,-3.2,-3.3,-3.6,-3.2,-3.0,-2.9,-2.6,-3.0,-2.8,-2.3,-1.9,-1.8,-1.7,-1.7,-1.5,-1.2,-1.8,-1.0,-0.6,-0.2,0.2,0.6,1.0,1.3,1.6,2.0,2.4,2.8,3.1,3.5,3.9,4.3,4.7,5.6];
const hBS = [-4.1,-3.5,-3.7,-3.9,-3.1,-2.9,-2.8,-2.7,-2.95,-2.8,-2.9,-3.3,-3.0,-3.8,-3.0,-2.7,-2.6,-2.7,-2.4,-2.3,-2.2,-2.0,-1.8,-1.7,-1.5,-1.45,-1.9,-1.7,-1.6,-1.5,-1.3,-1.15,-1.0,-0.85,-0.7,-0.5,-0.3,-0.1,0.1,0.25,0.4,0.55,0.7,0.85,0.95,1.1,1.25,1.4,1.55,1.8,2.05,2.3,2.55,2.7,2.8,2.9,3.05,3.3,3.7,4.05,5.3];
const hBD = [-10.95,-10.5,-10.8,-10.4,-10.7,-10.3,-10.6,-10.3,-10.6,-10.2,-10.5,-10.1,-10.4,-10.0,-10.4,-10.0,-10.3,-9.9,-10.3,-9.9,-10.2,-9.8,-10.2,-9.8,-10.1,-9.8,-10.1,-9.8,-10.0,-9.7,-10.1,-9.7,-10.2,-10.4,-10.6,-10.95,-10.3,-10.0,-9.9,-9.8,-9.7,-9.45,-9.2,-8.9,-8.7,-8.5,-8.2,-7.7,-7.2,-6.7,-6.2,-5.4,-4.45,-3.3,-2.2,-1.0,0.3,1.5,2.6,3.8,5.3];
const hBT = [-7.45,-6.5,-6.1,-6.2,-6.3,-6.9,-6.2,-6.2,-6.3,-6.4,-6.3,-6.1,-6.0,-5.8,-6.6,-7.2,-5.7,-5.5,-5.4,-5.4,-5.5,-5.6,-5.4,-5.3,-5.4,-5.5,-5.2,-5.1,-5.2,-5.3,-5.5,-6.9,-5.5,-4.8,-4.6,-4.3,-4.0,-3.8,-3.7,-3.5,-3.4,-3.1,-2.8,-2.6,-2.3,-2.0,-1.7,-1.4,-1.1,-0.7,-0.2,0.2,0.6,1.0,1.4,1.8,2.1,2.5,3.0,3.5,4.5];
const hRS = [-4.45,-3.6,-3.4,-3.3,-3.1,-2.9,-2.8,-2.65,-2.55,-2.7,-2.8,-2.9,-2.95,-3.05,-3.15,-3.2,-3.0,-2.8,-2.7,-2.5,-2.3,-2.2,-2.1,-2.0,-1.95,-1.9,-1.8,-1.7,-1.6,-1.5,-1.45,-1.3,-1.15,-1.0,-0.85,-0.7,-0.55,-0.4,-0.25,-0.1,0.0,0.15,0.3,0.45,0.6,0.75,0.9,1.05,1.2,1.4,1.55,1.7,1.85,2.0,2.2,2.4,2.6,2.8,3.1,3.5,5.0];
const hRD = [-11.7,-11.2,-11.9,-11.1,-11.8,-11.0,-11.7,-11.0,-11.5,-10.9,-11.1,-10.7,-11.0,-10.6,-10.9,-10.6,-10.9,-10.5,-10.8,-10.5,-10.7,-10.4,-10.7,-10.4,-10.6,-10.4,-10.6,-10.3,-10.6,-10.3,-10.5,-10.3,-10.6,-10.4,-10.6,-10.5,-10.4,-10.6,-10.7,-10.4,-9.7,-9.5,-9.4,-9.3,-9.2,-9.1,-8.9,-8.8,-8.6,-8.3,-7.7,-7.2,-6.2,-5.2,-4.2,-3.1,-1.95,-0.9,1.3,2.1,4.0];
const hRT = [-6.95,-6.2,-6.1,-6.8,-7.0,-6.3,-6.5,-6.4,-6.6,-6.6,-6.5,-6.3,-6.2,-6.4,-6.0,-6.2,-7.45,-5.8,-5.7,-5.6,-5.6,-5.5,-5.5,-5.6,-5.8,-5.5,-5.7,-5.5,-5.4,-5.3,-5.4,-5.3,-5.2,-5.2,-5.1,-4.8,-4.6,-4.5,-4.45,-5.3,-4.5,-4.1,-3.9,-3.5,-3.1,-2.8,-2.4,-2.0,-1.6,-1.3,-0.95,-0.6,-0.2,0.2,0.55,0.9,1.3,1.9,2.55,3.2,3.8];

const Y_LABELS = [-10, -5, 0, 5];
const X_TICKS_LABEL = "×10";

const PANELS = [
  { label: "(a)", row: 0, col: 0, k: [aKS, aKD, aKT], b: [aBS, aBD, aBT], r: [aRS, aRD, aRT] },
  { label: "(b)", row: 1, col: 0, k: [bKS, bKD, bKT], b: [bBS, bBD, bBT], r: [bRS, bRD, bRT] },
  { label: "(c)", row: 2, col: 0, k: [cKS, cKD, cKT], b: [cBS, cBD, cBT], r: [cRS, cRD, cRT] },
  { label: "(d)", row: 3, col: 0, k: [dKS, dKD, dKT], b: [dBS, dBD, dBT], r: [dRS, dRD, dRT] },
  { label: "(e)", row: 0, col: 1, k: [eKS, eKD, eKT], b: [eBS, eBD, eBT], r: [eRS, eRD, eRT] },
  { label: "(f)", row: 1, col: 1, k: [fKS, fKD, fKT], b: [fBS, fBD, fBT], r: [fRS, fRD, fRT] },
  { label: "(g)", row: 2, col: 1, k: [gKS, gKD, gKT], b: [gBS, gBD, gBT], r: [gRS, gRD, gRT] },
  { label: "(h)", row: 3, col: 1, k: [hKS, hKD, hKT], b: [hBS, hBD, hBT], r: [hRS, hRD, hRT] },
];

const COLORS: Record<string, string> = { k: "#000000", b: "#1a7cff", r: "#b0200e" };
const FONT = "DejaVu Sans";

export default function App() {
  const ref = useRef<HTMLDivElement>(null);
  useEffect(() => {
    const chart = echarts.init(ref.current!, null, { renderer: "svg" });
    const colLeft = [122, 553];
    const colWidth = [431, 432];
    const rowTop = [104, 344, 584, 824];
    const H = 240;
    const grids: any[] = [];
    const xAxes: any[] = [];
    const yAxes: any[] = [];
    const series: any[] = [];
    const graphics: any[] = [];
    const axisLineStyle = { color: "#000", width: 2 };
    const tickStyle = { color: "#000", width: 1.2 };
    const tickRich = {
      m: { fontSize: 8.5, fontWeight: "bold", fontFamily: "Liberation Sans", color: "#000", lineHeight: 11, verticalAlign: "bottom" },
      s: { fontSize: 6, fontWeight: "bold", fontFamily: "Liberation Sans", color: "#000", lineHeight: 7, verticalAlign: "top" },
    };

    PANELS.forEach((p, gi) => {
      const left = colLeft[p.col];
      const top = rowTop[p.row];
      const width = colWidth[p.col];
      grids.push({ left, top, width, height: H, containLabel: false });
      const xBase = {
        gridIndex: gi, type: "value", min: 2, max: 5, interval: 0.5,
        axisLine: { show: true, onZero: false, lineStyle: axisLineStyle },
        axisTick: { show: true, inside: true, length: 8, lineStyle: tickStyle },
        minorTick: { show: true, splitNumber: 5, length: 4, lineStyle: tickStyle },
        splitLine: { show: false }, minorSplitLine: { show: false },
      };
      xAxes.push({
        ...xBase, position: "bottom",
        axisLabel: {
          show: p.row === 3, margin: 5, hideOverlap: false,
          formatter: (v: number) => `{m|${v.toFixed(1)}${X_TICKS_LABEL}}{s|10}`,
          rich: tickRich,
        },
      });
      xAxes.push({ ...xBase, position: "top", axisLabel: { show: false } });
      const yBase = {
        gridIndex: gi, type: "value", min: -12, max: 6, interval: 1,
        axisLine: { show: true, onZero: false, lineStyle: axisLineStyle },
        axisTick: { show: true, inside: true, length: 5, lineStyle: tickStyle },
        splitLine: { show: false },
      };
      yAxes.push({
        ...yBase, position: "left",
        axisLabel: {
          show: p.col === 0, margin: 5,
          formatter: (v: number) => (Y_LABELS.indexOf(v) >= 0 ? `{m|10}{s|${v}}` : ""),
          rich: tickRich,
        },
      });
      yAxes.push({ ...yBase, position: "right", axisLabel: { show: false } });

      const styles: any[] = ["solid", [10, 5], [1.8, 4.6]];
      [2, 1, 0].forEach((si) => {
        (["k", "b", "r"] as const).forEach((c) => {
          const vals = (p as any)[c][si] as number[];
          series.push({
            type: "line",
            xAxisIndex: 2 * gi,
            yAxisIndex: 2 * gi,
            data: X.map((x, i) => [x, vals[i]]),
            showSymbol: false,
            symbol: "none",
            silent: true,
            clip: true,
            smooth: 0.3,
            smoothMonotone: "x",
            lineStyle: { color: COLORS[c], width: si === 0 ? 1.7 : 1.8, type: styles[si] },
          });
        });
      });

      graphics.push({
        type: "text", x: left + width - 48, y: top + 205,
        style: { text: p.label, fontSize: 30, fontFamily: FONT, fill: "#000", align: "center", verticalAlign: "middle" },
      });
    });

    const head = (text: string, x: number, y: number, size: number, rot = 0) => ({
      type: "text", x, y, rotation: rot,
      style: { text, fontSize: size, fontFamily: FONT, fill: "#000", align: "center", verticalAlign: "middle" },
    });

    graphics.push(
      head("Wave Dissipation", 552, 18, 27),
      head("Non−Amplitude Adjusted", 336, 77, 28),
      head("Amplitude Adjusted", 771, 77, 28),
      head("Radius (cm)", 555, 1113, 28),
      head("κ Variation", 1021, 354, 27, Math.PI / 2),
      head("ν Variation", 1021, 828, 27, Math.PI / 2),
      {
        type: "text", x: 40, y: 540, rotation: Math.PI / 2,
        style: {
          text: "{n|(v}{sub|x}{sup|2}{n|+v}{sub|z}{sup|2}{n|)}",
          align: "center", verticalAlign: "middle", fill: "#000",
          rich: {
            n: { fontSize: 28, fontFamily: FONT, fill: "#000", lineHeight: 52, verticalAlign: "middle" },
            sub: { fontSize: 23, fontFamily: FONT, fill: "#000", lineHeight: 24, verticalAlign: "bottom" },
            sup: { fontSize: 23, fontFamily: FONT, fill: "#000", lineHeight: 24, verticalAlign: "top" },
          },
        },
      }
    );

    chart.setOption({
      animation: false,
      backgroundColor: "#ffffff",
      grid: grids,
      xAxis: xAxes,
      yAxis: yAxes,
      series,
      graphic: graphics,
    });
    return () => chart.dispose();
  }, []);
  return <div ref={ref} style={{ position: "absolute", left: 0, top: 0, width: 1037, height: 1143 }} />;
}
